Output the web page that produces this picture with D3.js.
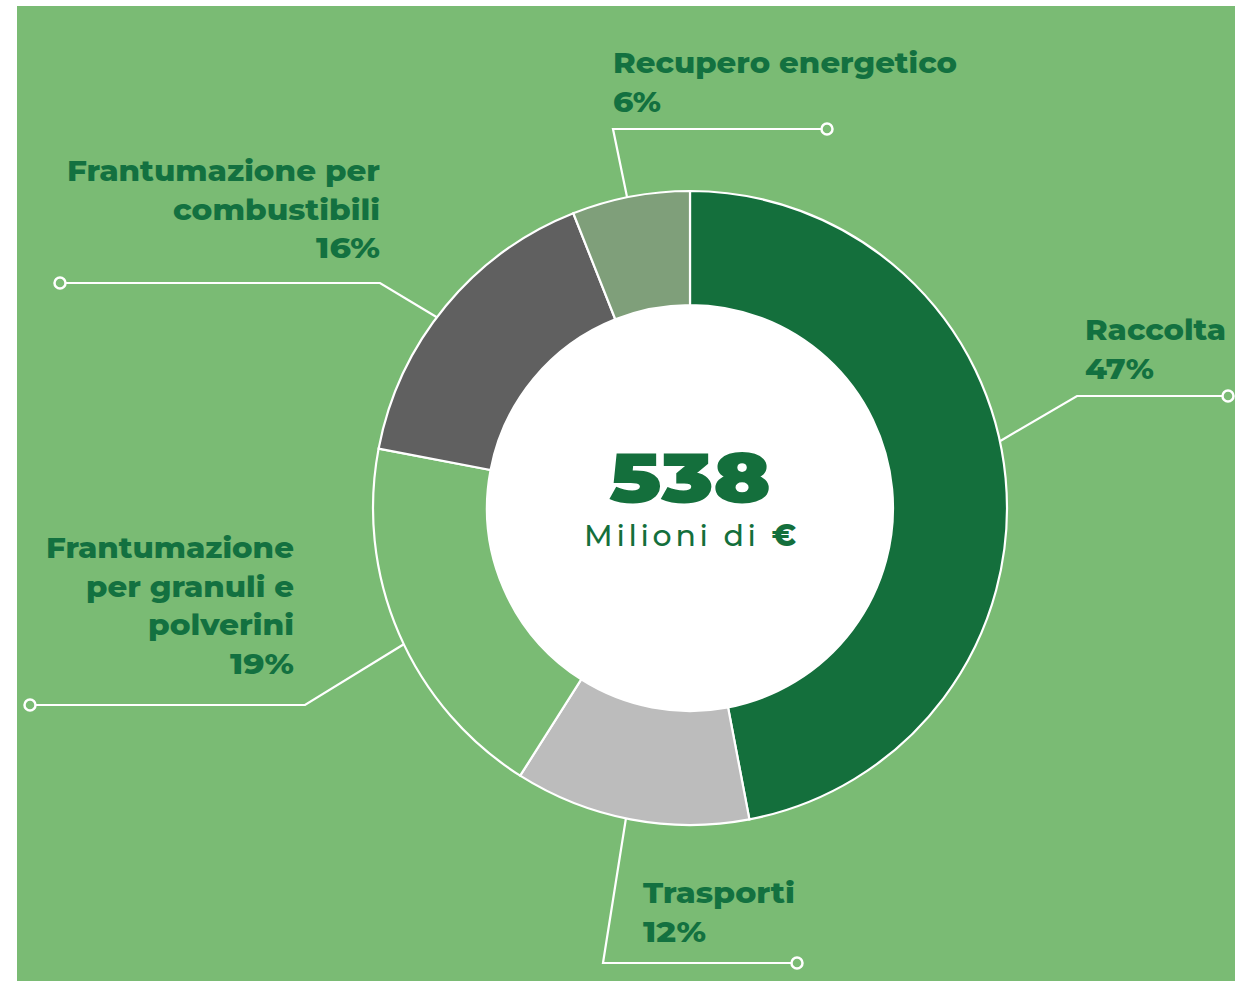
<!DOCTYPE html>
<html>
<head>
<meta charset="utf-8">
<script src="https://cdn.jsdelivr.net/npm/d3@7"></script>
<style>
  html, body { margin: 0; padding: 0; background: #fff; }
  svg { display: block; }
</style>
</head>
<body>
<svg id="chart" width="1235" height="981"></svg>
<script>
// Data
const categories = ["Raccolta", "Trasporti", "Frantumazione per granuli e polverini", "Frantumazione per combustibili", "Recupero energetico"];
const shares = [47, 12, 19, 16, 6];
const totalValue = "538";
const totalUnit = "Milioni di ";

// label text lines (as in the original)
const labelLines = [
  ["Raccolta"],
  ["Trasporti"],
  ["Frantumazione", "per granuli e", "polverini"],
  ["Frantumazione per", "combustibili"],
  ["Recupero energetico"]
];

const colors = ["#146f3c", "#bcbcbc", "#7abb74", "#606060", "#7f9f7a"];
const bg = "#7abb74";
const textColor = "#137140";

// Layout of callouts: where on the segment the leader starts, elbow, end, text anchor
const callouts = [
  { at: 0.46, elbow: [1077, 396], end: [1228, 396], tx: 1085, ty: 340, anchor: "start" },
  { at: 0.52, elbow: [603, 963],  end: [797, 963],  tx: 643,  ty: 903, anchor: "start" },
  { at: 0.47, elbow: [305, 705],  end: [30, 705],   tx: 294,  ty: 558, anchor: "end" },
  { at: 0.455, elbow: [380, 283], end: [60, 283],   tx: 380,  ty: 181, anchor: "end" },
  { at: 0.47, elbow: [613, 129],  end: [827, 129],  tx: 613,  ty: 73,  anchor: "start" }
];

const svg = d3.select("#chart");
const width = 1235, height = 981;
const cx = 690, cy = 508;
const outerR = 317, innerR = 203;
const font = "Montserrat, 'Open Sans', Lato, sans-serif";

// green panel
svg.append("rect")
  .attr("x", 17).attr("y", 6)
  .attr("width", width - 17).attr("height", height - 6)
  .attr("fill", bg);

const pie = d3.pie().sort(null).value(d => d);
const arcs = pie(shares);
const arc = d3.arc().innerRadius(innerR).outerRadius(outerR);

const g = svg.append("g").attr("transform", `translate(${cx},${cy})`);

g.selectAll("path.seg")
  .data(arcs)
  .enter()
  .append("path")
  .attr("class", "seg")
  .attr("d", arc)
  .attr("fill", (d, i) => colors[i])
  .attr("stroke", "#fff")
  .attr("stroke-width", 2.2);

// white centre
g.append("circle").attr("r", innerR).attr("fill", "#fff");

// leader lines
arcs.forEach((d, i) => {
  const c = callouts[i];
  const ang = d.startAngle + (d.endAngle - d.startAngle) * c.at;
  const p = d3.pointRadial(ang, outerR);
  const start = [cx + p[0], cy + p[1]];
  const dir = c.end[0] > c.elbow[0] ? -1 : 1;
  svg.append("polyline")
    .attr("points", [start, c.elbow, [c.end[0] + dir * 6, c.end[1]]].map(q => q.join(",")).join(" "))
    .attr("fill", "none")
    .attr("stroke", "#fff")
    .attr("stroke-width", 2.2);
  svg.append("circle")
    .attr("cx", c.end[0]).attr("cy", c.end[1])
    .attr("r", 5.5)
    .attr("fill", bg)
    .attr("stroke", "#fff")
    .attr("stroke-width", 2.5);
});

// labels
const lineWidths = {
  "Raccolta": 141, "Trasporti": 152, "Frantumazione": 248, "per granuli e": 208, "polverini": 146,
  "Frantumazione per": 313, "combustibili": 207, "Recupero energetico": 344,
  "47%": 69, "12%": 63, "19%": 64, "16%": 64, "6%": 48
};
const lh = 38.5;
arcs.forEach((d, i) => {
  const c = callouts[i];
  const lines = labelLines[i].concat([shares[i] + "%"]);
  const t = svg.append("text")
    .attr("font-family", font)
    .attr("font-weight", 800)
    .attr("font-size", 29)
    .attr("fill", textColor)
    .attr("text-anchor", c.anchor);
  lines.forEach((ln, k) => {
    const ts = t.append("tspan")
      .attr("x", c.tx)
      .attr("y", c.ty + k * lh)
      .text(ln);
    if (lineWidths[ln]) ts.attr("textLength", lineWidths[ln]).attr("lengthAdjust", "spacingAndGlyphs");
  });
});

// centre text
g.append("text")
  .attr("text-anchor", "middle")
  .attr("y", -5)
  .attr("font-family", font)
  .attr("font-weight", 900)
  .attr("font-size", 70)
  .attr("fill", "#146f3c")
  .attr("textLength", 162)
  .attr("lengthAdjust", "spacingAndGlyphs")
  .text(totalValue);

const sub = g.append("text")
  .attr("text-anchor", "middle")
  .attr("y", 38)
  .attr("font-family", font)
  .attr("font-size", 30)
  .attr("fill", "#146f3c")
  .attr("textLength", 212)
  .attr("lengthAdjust", "spacing");
sub.append("tspan").attr("font-weight", 500).text(totalUnit);
sub.append("tspan").attr("font-weight", 800).text("€");
</script>
</body>
</html>
